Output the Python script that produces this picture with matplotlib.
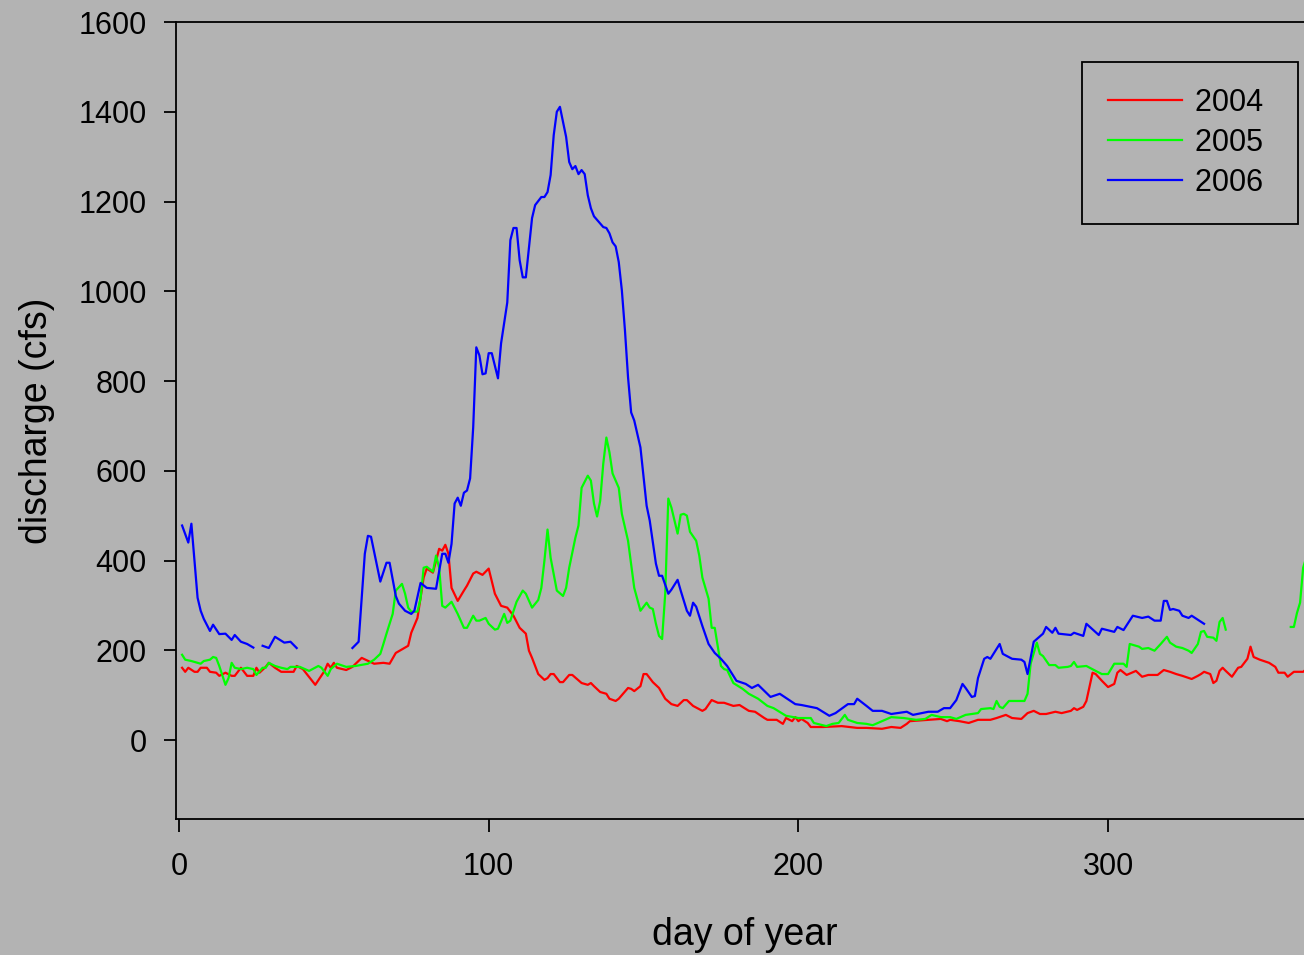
import numpy as np
import matplotlib.pyplot as plt

nan = np.nan

# daily mean discharge, day of year vs cfs
day_2004 = [1, 2, 3, 5, 6, 7, 9, 10, 12, 13, 15, 17, 18, 20, 22, 24, 25, 26, 28, 29,
            31, 33, 37, 38, 40, 44, 47, 48, 49, 50, 51, 54, 56, 59, 63, 66, 68, 70, 74, 75,
            77, 79, 80, 82, 84, 85, 86, 87, 88, 90, 92, 93, 95, 96, 98, 100, 102, 104, 106, 108,
            110, 112, 113, 114, 116, 118, 119, 120, 121, 123, 124, 126, 127, 130, 132, 133, 134, 136, 138, 139,
            141, 142, 145, 146, 147, 149, 150, 151, 153, 155, 157, 159, 161, 163, 164, 166, 169, 170, 172, 174,
            176, 179, 181, 184, 186, 189, 190, 193, 195, 196, 198, 199, 200, 201, 203, 204, 208, 214, 219, 222,
            227, 230, 233, 235, 236, 242, 246, 248, 249, 252, 255, 258, 262, 264, 267, 269, 272, 274, 276, 278,
            280, 283, 285, 288, 289, 290, 292, 293, 295, 296, 298, 300, 302, 303, 304, 306, 309, 311, 313, 316,
            318, 320, 322, 324, 327, 329, 330, 331, 333, 334, 335, 336, 337, 338, 340, 342, 343, 345, 346, 347,
            349, 352, 354, 355, 357, 358, 360, 363, 364, 365]
q_2004 = [161, 152, 161, 152, 152, 161, 161, 152, 150, 143, 150, 143, 143, 161, 143, 143, 161, 150, 163, 172,
          161, 152, 152, 165, 158, 123, 154, 170, 161, 172, 161, 156, 163, 183, 170, 172, 170, 194, 210, 239,
          272, 362, 382, 373, 426, 422, 435, 415, 339, 310, 333, 344, 371, 375, 368, 382, 326, 299, 295, 277,
          250, 237, 199, 183, 147, 134, 138, 147, 147, 129, 129, 145, 145, 127, 123, 127, 120, 107, 103, 92,
          87, 92, 116, 114, 109, 120, 147, 147, 129, 116, 92, 80, 76, 89, 89, 76, 65, 69, 89, 83,
          83, 76, 78, 65, 63, 49, 45, 45, 36, 49, 42, 51, 42, 47, 38, 29, 29, 31, 27, 27,
          25, 29, 27, 36, 42, 45, 47, 42, 45, 42, 38, 45, 45, 49, 56, 49, 47, 60, 65, 58,
          58, 63, 60, 65, 71, 67, 74, 87, 150, 147, 132, 118, 125, 150, 156, 145, 154, 141, 145, 145,
          156, 152, 147, 143, 136, 143, 147, 152, 147, 127, 132, 154, 161, 154, 141, 161, 163, 181, 208, 185,
          179, 172, 163, 150, 150, 141, 152, 152, 158, 158]

day_2005 = [1, 2, 4, 6, 7, 8, 10, 11, 12, 13, 15, 16, 17, 18, 20, 22, 24, 25, 27, 28,
            29, 31, 33, 35, 36, 39, 42, 45, 46, 48, 49, 51, 54, 57, 61, 63, 65, 66, 67, 69,
            70, 72, 73, 74, 75, 77, 78, 79, 80, 82, 83, 84, 85, 86, 88, 90, 92, 93, 95, 96,
            97, 99, 100, 102, 103, 105, 106, 107, 109, 111, 112, 114, 116, 117, 118, 119, 120, 122, 124, 125,
            126, 128, 129, 130, 132, 133, 134, 135, 136, 137, 138, 139, 140, 142, 143, 145, 147, 149, 151, 152,
            153, 154, 155, 156, 157, 158, 159, 161, 162, 163, 164, 165, 167, 168, 169, 171, 172, 173, 175, 176,
            177, 179, 182, 184, 187, 190, 192, 196, 200, 204, 205, 209, 211, 213, 215, 216, 219, 222, 224, 227,
            230, 234, 238, 241, 243, 246, 249, 251, 254, 258, 259, 262, 263, 264, 265, 266, 268, 271, 273, 274,
            275, 277, 278, 279, 281, 283, 284, 287, 288, 289, 290, 293, 296, 298, 300, 302, 305, 306, 307, 308,
            310, 311, 313, 315, 317, 319, 320, 322, 324, 326, 327, 329, 330, 331, 332, 334, 335, 336, 337, 338,
            339, 359, 360, 361, 362, 363, 365]
q_2005 = [190, 179, 176, 172, 170, 176, 179, 185, 183, 165, 123, 138, 172, 161, 158, 161, 158, 145, 161, 161,
          172, 165, 161, 158, 163, 163, 154, 165, 161, 143, 158, 170, 163, 165, 170, 179, 192, 214, 237, 281,
          333, 348, 326, 295, 286, 286, 315, 384, 386, 375, 411, 384, 299, 295, 308, 281, 250, 250, 277, 266,
          266, 272, 259, 246, 248, 281, 261, 266, 308, 333, 326, 295, 312, 339, 400, 469, 406, 333, 321, 339,
          384, 451, 478, 562, 589, 578, 527, 498, 533, 616, 674, 641, 594, 562, 504, 444, 339, 288, 306, 295,
          292, 259, 232, 225, 326, 538, 518, 460, 502, 504, 500, 464, 444, 411, 362, 315, 250, 250, 165, 158,
          156, 127, 114, 103, 92, 76, 71, 54, 49, 49, 38, 31, 36, 38, 56, 45, 38, 36, 33, 42,
          51, 49, 45, 47, 56, 51, 51, 47, 56, 60, 69, 71, 69, 87, 74, 71, 87, 87, 87, 103,
          170, 217, 192, 187, 167, 167, 161, 163, 165, 174, 163, 165, 154, 147, 147, 170, 170, 163, 214, 212,
          208, 203, 205, 199, 214, 230, 217, 208, 205, 199, 194, 214, 241, 243, 230, 228, 221, 263, 272, 246,
          nan, 252, 252, 283, 306, 384, 430]

day_2006 = [1, 3, 4, 6, 7, 8, 10, 11, 13, 15, 17, 18, 20, 22, 24, 25, 27, 29, 31, 34,
            36, 38, 39, 56, 58, 60, 61, 62, 65, 67, 68, 70, 71, 73, 75, 76, 78, 80, 83, 85,
            86, 87, 88, 89, 90, 91, 92, 93, 94, 95, 96, 97, 98, 99, 100, 101, 103, 104, 106, 107,
            108, 109, 110, 111, 112, 114, 115, 117, 118, 119, 120, 121, 122, 123, 125, 126, 127, 128, 129, 130,
            131, 132, 133, 134, 137, 138, 139, 140, 141, 142, 143, 144, 145, 146, 147, 149, 151, 152, 154, 155,
            156, 158, 159, 161, 162, 164, 165, 166, 167, 169, 171, 173, 175, 177, 180, 183, 185, 187, 191, 194,
            199, 201, 206, 210, 212, 216, 218, 219, 222, 224, 227, 230, 235, 237, 242, 245, 247, 249, 251, 253,
            254, 256, 257, 258, 260, 261, 262, 265, 266, 269, 272, 273, 274, 276, 279, 280, 282, 283, 284, 288,
            289, 292, 293, 297, 298, 302, 303, 305, 308, 311, 313, 315, 317, 318, 319, 320, 321, 323, 324, 326,
            327, 329, 331]
q_2006 = [478, 440, 482, 317, 288, 270, 243, 257, 236, 237, 223, 234, 219, 214, 206, nan, 210, 205, 230, 217,
          219, 205, nan, 205, 219, 415, 455, 453, 353, 395, 395, 321, 304, 288, 281, 288, 350, 339, 337, 415,
          415, 395, 437, 527, 540, 522, 551, 556, 583, 697, 875, 857, 815, 817, 862, 862, 806, 884, 975, 1114,
          1141, 1141, 1069, 1031, 1031, 1163, 1192, 1210, 1210, 1221, 1259, 1348, 1400, 1411, 1344, 1288, 1272, 1279, 1261, 1270,
          1261, 1214, 1185, 1167, 1143, 1141, 1129, 1109, 1100, 1065, 1002, 913, 808, 730, 712, 652, 522, 489, 393, 366,
          366, 326, 335, 357, 333, 288, 277, 306, 297, 254, 214, 194, 181, 165, 132, 125, 116, 123, 96, 103,
          80, 78, 71, 54, 60, 80, 80, 92, 76, 65, 65, 58, 63, 56, 63, 63, 71, 71, 89, 125,
          116, 96, 98, 138, 181, 185, 181, 214, 192, 181, 179, 174, 147, 219, 237, 252, 239, 250, 237, 234,
          239, 232, 259, 234, 248, 241, 252, 245, 277, 272, 275, 266, 266, 310, 310, 290, 292, 288, 277, 272,
          277, 268, 259]

years = ['2004 ', '2005 ', '2006 ']
colors = ['#ff0000', '#00ff00', '#0000ff']

bg = '#b3b3b3'
plt.rcParams['font.family'] = ['Liberation Sans', 'DejaVu Sans']

fig = plt.figure(figsize=(13.04, 9.55), dpi=100, facecolor=bg)
ax = fig.add_axes([176 / 1304, 1 - 819 / 955, 1138 / 1304, 797 / 955])
ax.set_facecolor(bg)

for d, q, yr, c in zip([day_2004, day_2005, day_2006], [q_2004, q_2005, q_2006], years, colors):
    ax.plot(d, q, color=c, lw=1.6, label=yr)

ax.set_xlim(-0.97, 366.5)
ax.set_ylim(-176, 1600)
ax.set_xticks([0, 100, 200, 300])
ax.set_yticks(np.arange(0, 1601, 200))
ax.tick_params(labelsize=22, length=9, width=1.3, direction='out', colors='black')
ax.tick_params(axis='y', pad=12)
ax.tick_params(axis='x', pad=15)
for s in ax.spines.values():
    s.set_linewidth(1.3)
    s.set_color('black')

ax.set_xlabel('day of year', fontsize=27)
ax.set_ylabel('discharge (cfs)', fontsize=27)
ax.xaxis.set_label_coords(0.5, -0.123)
ax.yaxis.set_label_coords(-0.106, 0.5)

leg = ax.legend(loc='upper right', bbox_to_anchor=(1298 / 1304, 1 - 62 / 955),
                bbox_transform=fig.transFigure, borderaxespad=0, fontsize=22,
                fancybox=False, framealpha=1, facecolor=bg, edgecolor='black',
                handlelength=2.4, handletextpad=0.45, borderpad=0.85, labelspacing=0.33)
leg.get_frame().set_linewidth(1.3)

fig.savefig('out.png', dpi=100, facecolor=bg)
